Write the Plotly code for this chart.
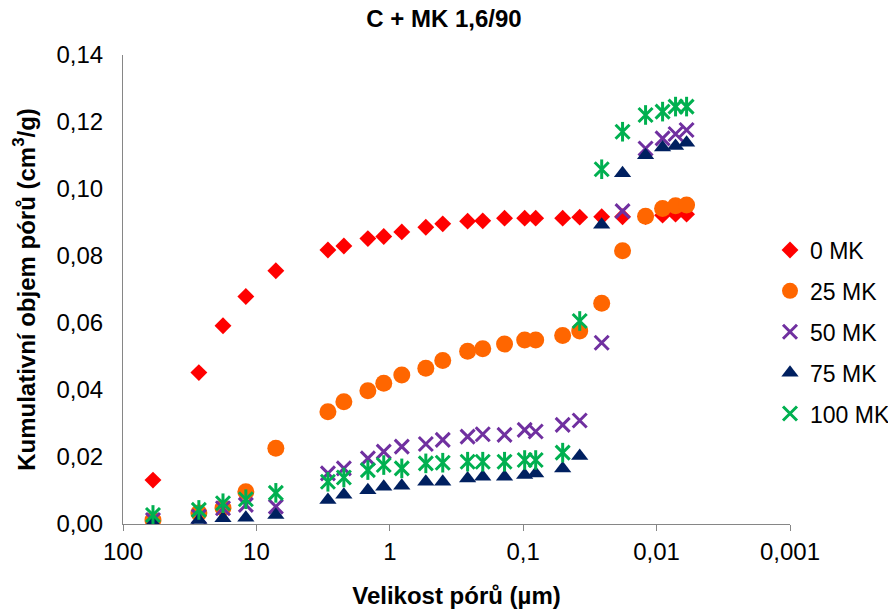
import plotly.graph_objects as go

# pore sizes (µm)
pore_size = [59.6, 27.0, 17.8, 12.0, 7.15, 2.91, 2.21, 1.46, 1.11, 0.813, 0.537, 0.401,
             0.261, 0.201, 0.138, 0.0975, 0.0806, 0.0506, 0.0377, 0.0258, 0.0180,
             0.0121, 0.00902, 0.00721, 0.00596]

mk0 = [0.0131, 0.0452, 0.0592, 0.0679, 0.0756, 0.0818, 0.0830, 0.0852, 0.0858, 0.0872,
       0.0886, 0.0896, 0.0904, 0.0905, 0.0913, 0.0913, 0.0913, 0.0913, 0.0916, 0.0917,
       0.0917, 0.0918, 0.0922, 0.0925, 0.0925]
mk25 = [0.0012, 0.0033, 0.0048, 0.0096, 0.0226, 0.0335, 0.0365, 0.0398, 0.0420, 0.0445,
        0.0465, 0.0488, 0.0516, 0.0523, 0.0537, 0.0549, 0.0549, 0.0563, 0.0576, 0.0659,
        0.0816, 0.0919, 0.0942, 0.0950, 0.0952]
mk50 = [0.0012, 0.0022, 0.0047, 0.0057, 0.0052, 0.0151, 0.0166, 0.0196, 0.0216, 0.0231,
        0.0239, 0.0251, 0.0261, 0.0268, 0.0266, 0.0281, 0.0276, 0.0296, 0.0309, 0.0541,
        0.0934, 0.1121, 0.1151, 0.1164, 0.1176]
mk75 = [0.0004, 0.0012, 0.0017, 0.0019, 0.0027, 0.0072, 0.0087, 0.0101, 0.0111, 0.0114,
        0.0126, 0.0126, 0.0136, 0.0141, 0.0141, 0.0146, 0.0151, 0.0166, 0.0203, 0.0893,
        0.1047, 0.1101, 0.1124, 0.1128, 0.1138]
mk100 = [0.0027, 0.0042, 0.0062, 0.0074, 0.0093, 0.0126, 0.0139, 0.0161, 0.0176, 0.0166,
         0.0181, 0.0183, 0.0186, 0.0186, 0.0186, 0.0191, 0.0191, 0.0213, 0.0606, 0.1059,
         0.1171, 0.1221, 0.1231, 0.1246, 0.1246]

series_names = ["0 MK", "25 MK", "50 MK", "75 MK", "100 MK"]
x_tickvals = [100, 10, 1, 0.1, 0.01, 0.001]
x_ticktext = ["100", "10", "1", "0,1", "0,01", "0,001"]
y_tickvals = [0, 0.02, 0.04, 0.06, 0.08, 0.10, 0.12, 0.14]

FONT = "Liberation Sans, Arial, sans-serif"

fig = go.Figure()
fig.add_trace(go.Scatter(x=pore_size, y=mk0, mode="markers", name=series_names[0],
                         legendgroup="a",
                         marker=dict(symbol="diamond", size=13, color="#FF0000")))
fig.add_trace(go.Scatter(x=pore_size, y=mk25, mode="markers", name=series_names[1],
                         legendgroup="b",
                         marker=dict(symbol="circle", size=17, color="#FF6600")))
fig.add_trace(go.Scatter(x=pore_size, y=mk50, mode="markers", name=series_names[2],
                         legendgroup="c",
                         marker=dict(symbol="x-thin", size=14, color="#7030A0",
                                     line=dict(color="#7030A0", width=3))))
fig.add_trace(go.Scatter(x=pore_size, y=mk75, mode="markers", name=series_names[3],
                         legendgroup="d",
                         marker=dict(symbol="triangle-up", size=15, color="#002060")))
fig.add_trace(go.Scatter(x=pore_size, y=mk100, mode="markers", name=series_names[4],
                         legendgroup="e",
                         marker=dict(symbol="x-thin", size=14, color="#00B050",
                                     line=dict(color="#00B050", width=3))))
fig.add_trace(go.Scatter(x=pore_size, y=mk100, mode="markers", name=series_names[4],
                         legendgroup="e", showlegend=False,
                         marker=dict(symbol="line-ns", size=14, color="#00B050",
                                     line=dict(color="#00B050", width=3))))

fig.update_layout(
    width=888, height=611,
    margin=dict(l=123, r=98, t=55, b=87, autoexpand=False),
    paper_bgcolor="white", plot_bgcolor="white",
    separators=", ",
    font=dict(family=FONT, size=24, color="black"),
    title=dict(text="<b>C + MK 1,6/90</b>", x=0.5, xanchor="center",
               y=1 - 19 / 611, yanchor="middle", font=dict(size=24)),
    legend=dict(x=(770 - 123) / 667, xanchor="left", y=(524 - 332) / 469, yanchor="middle",
                font=dict(size=23), tracegroupgap=8, traceorder="grouped",
                itemwidth=30, bgcolor="rgba(0,0,0,0)"),
    showlegend=True,
)
fig.update_xaxes(type="log", range=[2, -3], tickvals=x_tickvals, ticktext=x_ticktext,
                 showgrid=False, zeroline=False, showline=True, linecolor="#868686",
                 linewidth=1, ticks="outside", ticklen=6, tickcolor="#868686",
                 title=dict(text="<b>Velikost pórů (µm)</b>", font=dict(size=24), standoff=23),
                 tickfont=dict(size=24))
fig.update_yaxes(range=[0, 0.14], tickvals=y_tickvals, tickformat=".2f",
                 showgrid=False, zeroline=False, showline=True, linecolor="#868686",
                 linewidth=1, ticks="", ticklabelstandoff=14,
                 title=dict(text="<b>Kumulativní objem pórů (cm<sup>3</sup>/g)</b>",
                            font=dict(size=24), standoff=14),
                 tickfont=dict(size=24))

fig.write_html("out.html")
